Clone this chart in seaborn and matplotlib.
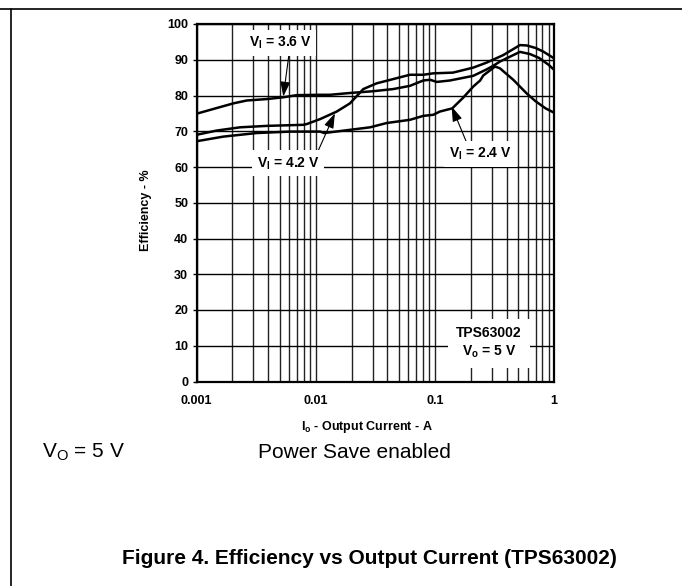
import numpy as np
import pandas as pd
import matplotlib
matplotlib.use("Agg")
import matplotlib.pyplot as plt
import matplotlib.ticker as mticker
from matplotlib.lines import Line2D
import seaborn as sns

# ---- data ----
current_36 = [0.001, 0.00148, 0.00204, 0.00264, 0.00388, 0.00535, 0.00693, 0.0109, 0.0132,
              0.0194, 0.0304, 0.0448, 0.0618, 0.080, 0.091, 0.104, 0.134, 0.21, 0.272, 0.309,
              0.352, 0.40, 0.518, 0.628, 0.75, 0.90, 1.0]
eff_36 = [74.9, 76.5, 77.8, 78.6, 79.0, 79.5, 80.1, 80.2, 80.2,
          80.7, 81.2, 81.8, 82.7, 84.2, 84.4, 83.8, 84.2, 85.5, 87.3, 88.3,
          89.5, 90.4, 92.2, 91.6, 90.5, 88.6, 87.2]

current_42 = [0.001, 0.00148, 0.00232, 0.00388, 0.00787, 0.0084, 0.0109, 0.0150, 0.0194, 0.0251,
              0.0325, 0.0448, 0.0618, 0.080, 0.097, 0.142, 0.21, 0.272, 0.375, 0.518,
              0.59, 0.70, 0.812, 1.0]
eff_42 = [69.0, 70.2, 71.1, 71.5, 71.8, 72.0, 73.4, 75.5, 77.8, 81.8,
          83.4, 84.6, 85.8, 85.8, 86.2, 86.4, 87.8, 89.2, 91.3, 94.1,
          94.0, 93.3, 92.3, 90.4]

current_24 = [0.001, 0.00168, 0.0032, 0.00608, 0.0109, 0.0118, 0.0132, 0.0194, 0.0286, 0.0394,
              0.0618, 0.080, 0.097, 0.110, 0.140, 0.173, 0.21, 0.24, 0.255, 0.32, 0.352,
              0.455, 0.589, 0.70, 0.85, 1.0]
eff_24 = [67.2, 68.5, 69.5, 69.9, 69.9, 69.5, 69.7, 70.4, 71.1, 72.3,
          73.2, 74.3, 74.6, 75.5, 76.4, 79.4, 82.5, 84.2, 85.6, 88.1, 87.6,
          84.4, 80.6, 78.4, 76.4, 75.2]

series_labels = ["3.6", "4.2", "2.4"]
x_tick_values = [0.001, 0.01, 0.1, 1]
x_tick_labels = ["0.001", "0.01", "0.1", "1"]
y_tick_values = list(range(0, 101, 10))

df = pd.concat([
    pd.DataFrame({"current": current_36, "eff": eff_36, "vin": "3.6"}),
    pd.DataFrame({"current": current_42, "eff": eff_42, "vin": "4.2"}),
    pd.DataFrame({"current": current_24, "eff": eff_24, "vin": "2.4"}),
])

# ---- style ----
sns.set_theme(style="white")
plt.rcParams["font.family"] = ["Liberation Sans", "DejaVu Sans"]
plt.rcParams["mathtext.fontset"] = "custom"
plt.rcParams["mathtext.rm"] = "Liberation Sans"
plt.rcParams["mathtext.bf"] = "Liberation Sans:bold"
plt.rcParams["mathtext.it"] = "Liberation Sans:italic"
plt.rcParams["text.color"] = "black"
plt.rcParams["axes.labelcolor"] = "black"
plt.rcParams["xtick.color"] = "black"
plt.rcParams["ytick.color"] = "black"

W, H = 682, 586
fig = plt.figure(figsize=(W / 100, H / 100), dpi=100)
fig.patch.set_facecolor("white")
ax_l, ax_r, ax_t, ax_b = 196.5, 554, 24, 381.5
ax = fig.add_axes([ax_l / W, 1 - ax_b / H, (ax_r - ax_l) / W, (ax_b - ax_t) / H])

sns.lineplot(data=df, x="current", y="eff", hue="vin", estimator=None, sort=False,
             palette={k: "black" for k in series_labels}, legend=False,
             linewidth=1.8, ax=ax, zorder=3)

ax.set_xscale("log")
ax.set_xlim(0.001, 1)
ax.set_ylim(0, 100)
ax.xaxis.set_major_locator(mticker.FixedLocator(x_tick_values))
ax.xaxis.set_major_formatter(mticker.FixedFormatter(x_tick_labels))
ax.xaxis.set_minor_locator(mticker.LogLocator(base=10, subs=np.arange(2, 10)))
ax.xaxis.set_minor_formatter(mticker.NullFormatter())
ax.yaxis.set_major_locator(mticker.FixedLocator(y_tick_values))

ax.grid(True, which="both", axis="x", color="#222222", linewidth=1.0, zorder=1)
ax.grid(True, which="major", axis="y", color="black", linewidth=1.0, zorder=1)
ax.set_axisbelow(True)

for s in ax.spines.values():
    s.set_color("black")
    s.set_linewidth(1.6)

ax.tick_params(axis="y", which="major", direction="out", length=3, width=1.0,
               color="black", labelcolor="black", pad=3, labelsize=9, left=True)
ax.tick_params(axis="x", which="both", length=0, pad=10, labelsize=9, labelcolor="black")
for lab in ax.get_xticklabels() + ax.get_yticklabels():
    lab.set_fontweight("bold")

ax.set_xlabel(r"$\mathbf{I_o}$ - Output Current - A", fontsize=9, fontweight="bold",
              color="black")
ax.set_ylabel("Efficiency - %", fontsize=9, fontweight="bold", color="black")
ax.xaxis.set_label_coords(0.477, -0.105)
ax.yaxis.set_label_coords(-0.125, 0.48)

box = dict(boxstyle="square,pad=0.35", fc="white", ec="none")
arrow = dict(arrowstyle="-|>,head_length=0.9,head_width=0.3", color="black", lw=0.8,
             shrinkA=0, shrinkB=0)

ax.annotate(r"$\mathbf{V_I}$ = 3.6 V", xy=(0.00535, 79.7), xytext=(0.00502, 94.7),
            ha="center", va="center", fontsize=10, fontweight="bold", bbox=box,
            arrowprops=dict(arrow, relpos=(0.65, 0.0)), zorder=5)
ax.annotate(r"$\mathbf{V_I}$ = 4.2 V", xy=(0.0145, 75.0), xytext=(0.00586, 61.0),
            ha="center", va="center", fontsize=10, fontweight="bold", bbox=box,
            arrowprops=dict(arrow, relpos=(0.95, 1.0)), zorder=5)
ax.annotate(r"$\mathbf{V_I}$ = 2.4 V", xy=(0.1384, 76.9), xytext=(0.242, 63.6),
            ha="center", va="center", fontsize=10, fontweight="bold", bbox=box,
            arrowprops=dict(arrow, relpos=(0.3, 1.0)), zorder=5)
ax.text(0.284, 10.9, "TPS63002\n" + r"$\mathbf{V_o}$ = 5 V", ha="center", va="center",
        fontsize=10, fontweight="bold", linespacing=1.3,
        bbox=dict(boxstyle="square,pad=0.6", fc="white", ec="none"), zorder=5)

# ---- page texts and frame ----
fig.text(41.7 / W, 1 - 452 / H, r"$\mathrm{V_O}$ = 5 V", ha="left", va="center", fontsize=15)
fig.text(258 / W, 1 - 452 / H, "Power Save enabled", ha="left", va="center", fontsize=15)
fig.text(121.7 / W, 1 - 558 / H, "Figure 4. Efficiency vs Output Current (TPS63002)",
         ha="left", va="center", fontsize=15, fontweight="bold")
fig.add_artist(Line2D([0, 1], [1 - 9 / H, 1 - 9 / H], color="black", lw=1.2,
                      transform=fig.transFigure))
fig.add_artist(Line2D([10.5 / W, 10.5 / W], [0, 1 - 9 / H], color="black", lw=1.2,
                      transform=fig.transFigure))

fig.savefig("out.png", dpi=100, facecolor="white")
